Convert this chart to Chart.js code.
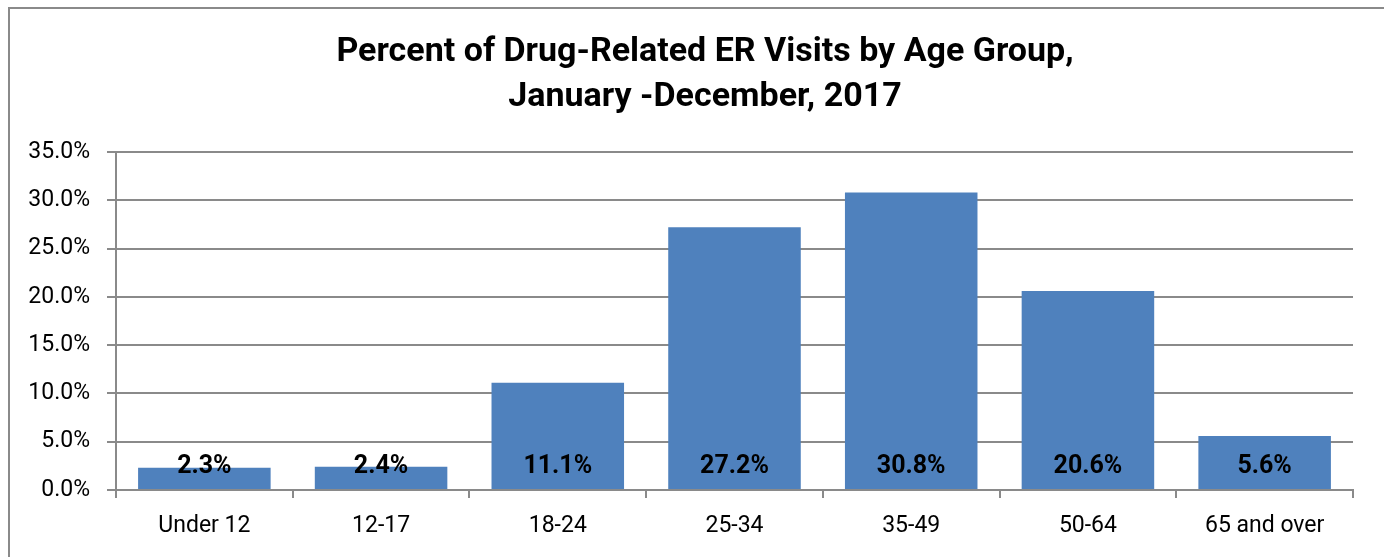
<!DOCTYPE html>
<html>
<head>
<meta charset="utf-8">
<script src="https://cdn.jsdelivr.net/npm/chart.js@4/dist/chart.umd.min.js"></script>
<style>
  body { margin: 0; background: #fff; overflow: hidden; }
  #frame { position: absolute; left: 8px; top: 7px; width: 1374px; height: 600px; border: 2px solid #8a8a8a; border-bottom: none; }
  #wrap { position: absolute; left: 0; top: 0; width: 1384px; height: 557px; }
</style>
</head>
<body>
<div id="frame"></div>
<div id="wrap"><canvas id="myChart"></canvas></div>
<script>
const categories = ['Under 12', '12-17', '18-24', '25-34', '35-49', '50-64', '65 and over'];
const percents = [2.3, 2.4, 11.1, 27.2, 30.8, 20.6, 5.6];
const titleLines = ['Percent of Drug-Related ER Visits by Age Group,', 'January -December, 2017'];

// labels drawn near the bottom of each bar
const barLabels = {
    id: 'barLabels',
    afterDatasetsDraw(chart) {
        const ctx = chart.ctx;
        const meta = chart.getDatasetMeta(0);
        const y = chart.scales.y.getPixelForValue(0) - 23;
        ctx.save();
        ctx.font = 'bold 25px Roboto';
        ctx.fillStyle = '#000';
        ctx.textAlign = 'center';
        ctx.textBaseline = 'middle';
        meta.data.forEach((bar, i) => {
            ctx.fillText(percents[i].toFixed(1) + '%', bar.x, y);
        });
        ctx.restore();
    }
};

// title sits a bit right of the canvas centre, like the original
const offsetTitle = {
    id: 'offsetTitle',
    afterDraw(chart) {
        const ctx = chart.ctx;
        ctx.save();
        ctx.font = 'bold 34px Roboto';
        ctx.fillStyle = '#000';
        ctx.textAlign = 'center';
        ctx.textBaseline = 'alphabetic';
        titleLines.forEach((line, i) => {
            ctx.fillText(line, 705, 61 + i * 45);
        });
        ctx.restore();
    }
};

function createChart() {
    const ctx = document.getElementById('myChart');

    new Chart(ctx, {
        type: 'bar',
        data: {
            labels: categories,
            datasets: [{
                data: percents,
                backgroundColor: '#4F81BD',
                borderWidth: 0,
                barPercentage: 0.75,
                categoryPercentage: 1
            }]
        },
        options: {
            responsive: true,
            maintainAspectRatio: false,
            animation: false,
            layout: { padding: { left: 0, right: 31, top: 152, bottom: 0 } },
            plugins: {
                legend: { display: false },
                tooltip: { enabled: false },
                title: { display: false }
            },
            scales: {
                x: {
                    grid: { offset: true, drawOnChartArea: false, drawTicks: true, tickLength: 8, color: '#8a8a8a', lineWidth: 2 },
                    border: { color: '#8a8a8a', width: 2 },
                    ticks: { color: '#000', padding: 14, font: { family: 'Roboto', size: 23 } },
                    afterFit(scale) { scale.height = 67; }
                },
                y: {
                    min: 0,
                    max: 35,
                    grid: { color: '#8a8a8a', lineWidth: 2, tickLength: 9 },
                    border: { color: '#8a8a8a', width: 2 },
                    ticks: {
                        stepSize: 5,
                        color: '#000',
                        padding: 17,
                        font: { family: 'Roboto', size: 23 },
                        callback: v => v.toFixed(1) + '%'
                    },
                    afterFit(scale) { scale.width = 116; }
                }
            }
        },
        plugins: [barLabels, offsetTitle]
    });
}

createChart();
</script>
</body>
</html>
